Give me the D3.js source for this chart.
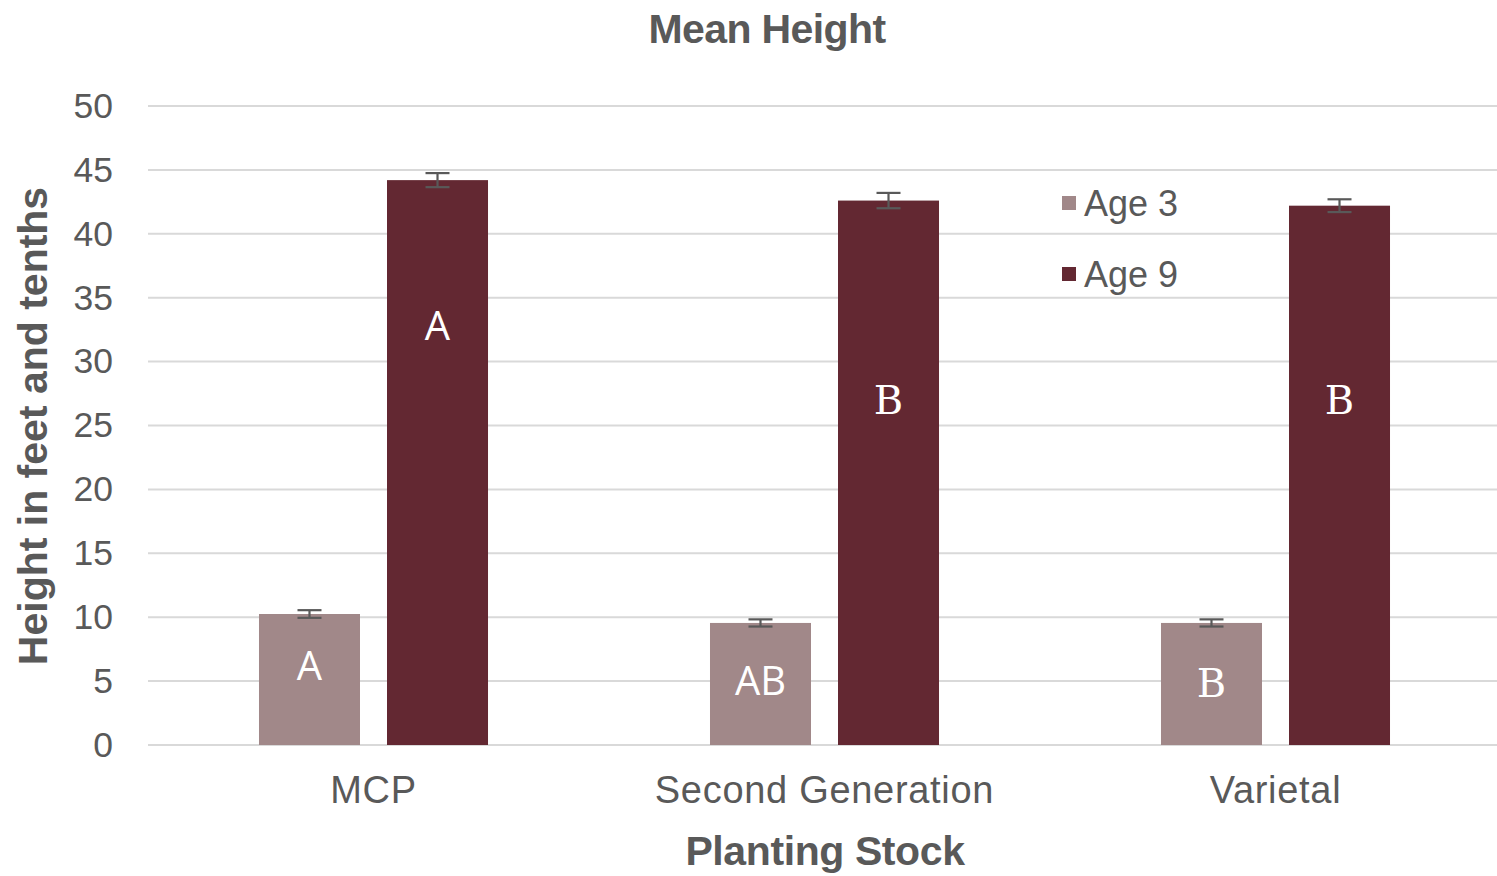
<!DOCTYPE html>
<html>
<head>
<meta charset="utf-8">
<script src="https://cdn.jsdelivr.net/npm/d3@7"></script>
<style>
  html, body { margin: 0; padding: 0; background: #fff; }
  svg { display: block; }
</style>
</head>
<body>
<svg id="chart" width="1497" height="876"></svg>
<script>
// Planting stock groups and the two tree ages measured
const categories = ["MCP", "Second Generation", "Varietal"];
const seriesNames = ["Age 3", "Age 9"];
const age3Means = [10.25, 9.55, 9.55];
const age9Means = [44.2, 42.6, 42.2];
const age3Err = [0.3, 0.28, 0.28];
const age9Err = [0.55, 0.6, 0.5];
const age3Letters = ["A", "AB", "B"];
const age9Letters = ["A", "B", "B"];
const yTicks = [0, 5, 10, 15, 20, 25, 30, 35, 40, 45, 50];
const seriesColors = ["#a18889", "#632832"];

const svg = d3.select("#chart");
const textColor = "#595959";
const font = "'Liberation Sans', Arial, sans-serif";

const x0 = d3.scaleBand().domain(categories).range([148, 1501]).paddingInner(0).paddingOuter(0);
const x1 = d3.scaleBand().domain(seriesNames).range([0, x0.bandwidth()]).paddingInner(0.211).paddingOuter(0.867);
const y = d3.scaleLinear().domain([0, 50]).range([745, 106]);

// Gridlines
svg.append("g")
  .selectAll("line")
  .data(yTicks)
  .join("line")
  .attr("x1", 148).attr("x2", 1497)
  .attr("y1", d => y(d)).attr("y2", d => y(d))
  .attr("stroke", "#d9d9d9").attr("stroke-width", 2);

// Y axis tick labels
const yAxis = d3.axisLeft(y).tickValues(yTicks).tickSize(0).tickPadding(0);
const yg = svg.append("g").attr("transform", "translate(113,0)").call(yAxis);
yg.select(".domain").remove();
yg.selectAll("text")
  .attr("dy", "0.32em")
  .attr("font-family", font).attr("font-size", 35.5).attr("fill", textColor);

// X axis category labels
const xAxis = d3.axisBottom(x0).tickSize(0).tickPadding(0);
const xg = svg.append("g").attr("transform", "translate(0,803)").call(xAxis);
xg.select(".domain").remove();
xg.selectAll("text")
  .attr("dy", 0)
  .attr("letter-spacing", 0.7)
  .attr("font-family", font).attr("font-size", 38).attr("fill", textColor);

// Bars grouped by planting stock
const rows = categories.map((c, i) => ({
  cat: c,
  vals: [
    { s: seriesNames[0], v: age3Means[i], e: age3Err[i], lab: age3Letters[i], k: 0 },
    { s: seriesNames[1], v: age9Means[i], e: age9Err[i], lab: age9Letters[i], k: 1 }
  ]
}));

const groups = svg.append("g").selectAll("g")
  .data(rows).join("g")
  .attr("transform", d => `translate(${x0(d.cat)},0)`);

groups.selectAll("rect")
  .data(d => d.vals).join("rect")
  .attr("x", d => x1(d.s))
  .attr("width", x1.bandwidth())
  .attr("y", d => y(d.v))
  .attr("height", d => y(0) - y(d.v))
  .attr("fill", d => seriesColors[d.k]);

// Error bars
const eb = groups.selectAll("g.err")
  .data(d => d.vals).join("g").attr("class", "err")
  .attr("stroke", "#595959").attr("stroke-width", 2.2);
eb.append("line")
  .attr("x1", d => x1(d.s) + x1.bandwidth() / 2)
  .attr("x2", d => x1(d.s) + x1.bandwidth() / 2)
  .attr("y1", d => y(d.v + d.e)).attr("y2", d => y(d.v - d.e));
eb.append("line")
  .attr("x1", d => x1(d.s) + x1.bandwidth() / 2 - 12)
  .attr("x2", d => x1(d.s) + x1.bandwidth() / 2 + 12)
  .attr("y1", d => y(d.v + d.e)).attr("y2", d => y(d.v + d.e));
eb.append("line")
  .attr("x1", d => x1(d.s) + x1.bandwidth() / 2 - 12)
  .attr("x2", d => x1(d.s) + x1.bandwidth() / 2 + 12)
  .attr("y1", d => y(d.v - d.e)).attr("y2", d => y(d.v - d.e));

// Significance letters inside bars
const letterPos = {
  "MCP": [680, 340],
  "Second Generation": [695, 414],
  "Varietal": [697, 414]
};
const serifLetter = {
  "MCP": [false, false],
  "Second Generation": [false, true],
  "Varietal": [true, true]
};
groups.each(function (d) {
  d3.select(this).selectAll("text.sig")
    .data(d.vals).join("text").attr("class", "sig")
    .attr("x", v => x1(v.s) + x1.bandwidth() / 2)
    .attr("y", v => letterPos[d.cat][v.k])
    .attr("text-anchor", "middle")
    .attr("font-family", v => serifLetter[d.cat][v.k] ? "'DejaVu Serif', 'Liberation Serif', serif" : "'Open Sans', 'Liberation Sans', sans-serif")
    .attr("font-size", 40)
    .attr("fill", "#ffffff")
    .text(v => v.lab);
});

// Legend
const legend = svg.append("g").selectAll("g")
  .data(seriesNames).join("g")
  .attr("transform", (d, i) => `translate(1062,${196 + i * 71})`);
legend.append("rect")
  .attr("width", 14).attr("height", 14)
  .attr("fill", (d, i) => seriesColors[i]);
legend.append("text")
  .attr("x", 22).attr("y", 7).attr("dy", "0.35em")
  .attr("font-family", font).attr("font-size", 36).attr("fill", textColor)
  .text(d => d);

// Titles
svg.append("text")
  .attr("x", 767).attr("y", 43)
  .attr("text-anchor", "middle")
  .attr("font-family", font).attr("font-weight", "bold")
  .attr("font-size", 41).attr("fill", textColor)
  .attr("letter-spacing", -0.6)
  .text("Mean Height");

svg.append("text")
  .attr("x", 825).attr("y", 865)
  .attr("text-anchor", "middle")
  .attr("font-family", font).attr("font-weight", "bold")
  .attr("font-size", 41).attr("fill", textColor)
  .attr("letter-spacing", -0.4)
  .text("Planting Stock");

svg.append("text")
  .attr("transform", "translate(47,426) rotate(-90)")
  .attr("text-anchor", "middle")
  .attr("font-family", font).attr("font-weight", "bold")
  .attr("font-size", 41).attr("fill", textColor)
  .text("Height in feet and tenths");
</script>
</body>
</html>
